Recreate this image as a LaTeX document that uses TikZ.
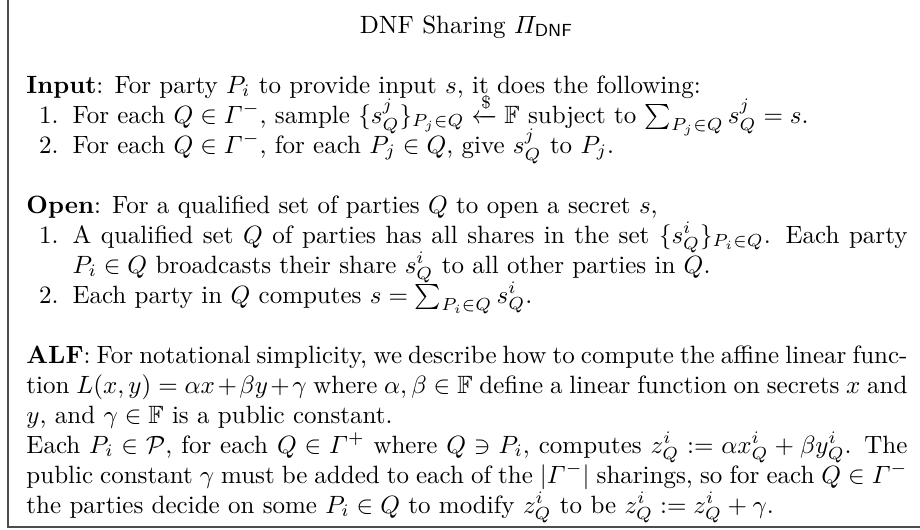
\documentclass[tikz,border=0pt]{standalone}
\usepackage{amsmath,amssymb}
\begin{document}
\begin{tikzpicture}[x=0.4pt,y=-0.4pt,
  txt/.style={anchor=base west,inner sep=0pt,font=\fontsize{10}{12}\selectfont},
  lbl/.style={anchor=base east,inner sep=0pt,font=\fontsize{10}{12}\selectfont},
  frame/.style={line width=0.8pt,draw=black!70}]
\useasboundingbox (0,0) rectangle (920,529);
\coordinate (ftop) at (7.5,-2);
\coordinate (fcorner) at (7.5,527);
\coordinate (fright) at (922,527);
\draw[frame] (ftop) -- (fcorner) -- (fright);
\node[anchor=base,inner sep=0pt,font=\fontsize{10}{12}\selectfont] (title) at (466.5,33) {DNF Sharing $\varPi_{\mathsf{DNF}}$};
% Input
\node[txt] (in0) at (26,93) {\textbf{Input}: For party $P_i$ to provide input $s$, it does the following:};
\node[lbl] (in1l) at (59,123) {1.};
\node[txt] (in1) at (72,123) {For each $Q \in \varGamma^-$, sample $\{s^j_Q\}_{P_j \in Q} \xleftarrow{\$} \mathbb{F}$ subject to $\sum_{P_j \in Q} s^j_Q = s$.};
\node[lbl] (in2l) at (59,153) {2.};
\node[txt] (in2) at (72,153) {For each $Q \in \varGamma^-$, for each $P_j \in Q$, give $s^j_Q$ to $P_j$.};
% Open
\node[txt] (op0) at (26,213) {\textbf{Open}: For a qualified set of parties $Q$ to open a secret $s$,};
\node[lbl] (op1l) at (59,243) {1.};
\node[txt] (op1) at (72,243) {\hbox to 334pt{A qualified set $Q$ of parties has all shares in the set $\{s^i_Q\}_{P_i\in Q}$. Each party}};
\node[txt] (op1b) at (72,273) {$P_i \in Q$ broadcasts their share $s^i_Q$ to all other parties in $Q$.};
\node[lbl] (op2l) at (59,303) {2.};
\node[txt] (op2) at (72,303) {Each party in $Q$ computes $s = \sum_{P_i\in Q} s^i_Q$.};
% ALF
\node[txt] (a1) at (26,363) {\hbox to 352.4pt{\textbf{ALF}: For notational simplicity, we describe how to compute the affine linear func-}};
\node[txt] (a2) at (26,393) {\hbox to 352.4pt{tion $L(x,y) = \alpha x + \beta y + \gamma$ where $\alpha,\beta \in \mathbb{F}$ define a linear function on secrets $x$ and}};
\node[txt] (a3) at (26,423) {$y$, and $\gamma \in \mathbb{F}$ is a public constant.};
\node[txt] (a4) at (26,453) {\hbox to 352.4pt{Each $P_i \in \mathcal{P}$, for each $Q \in \varGamma^+$ where $Q \ni P_i$, computes $z^i_Q := \alpha x^i_Q + \beta y^i_Q$. The}};
\node[txt] (a5) at (26,483) {\hbox to 352.4pt{public constant $\gamma$ must be added to each of the $|\varGamma^-|$ sharings, so for each $Q \in \varGamma^-$}};
\node[txt] (a6) at (26,513) {the parties decide on some $P_i \in Q$ to modify $z^i_Q$ to be $z^i_Q := z^i_Q + \gamma$.};
\end{tikzpicture}
\end{document}
